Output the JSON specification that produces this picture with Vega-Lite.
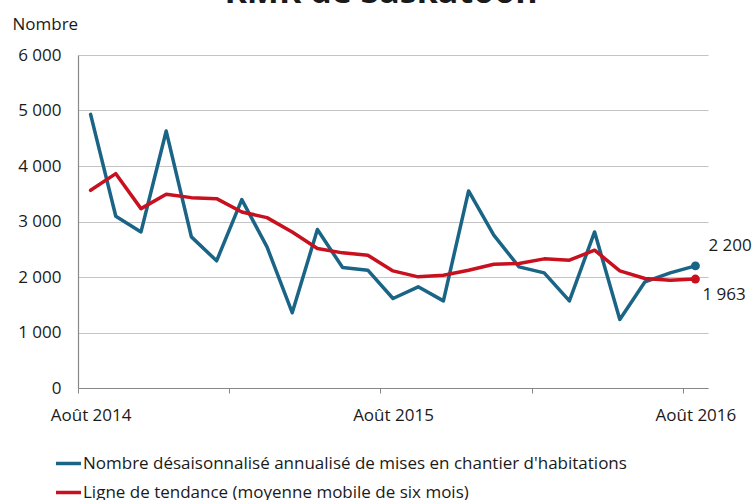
{
  "$schema": "https://vega.github.io/schema/vega-lite/v6.json",
  "width": 630,
  "height": 333,
  "autosize": {"type": "none"},
  "padding": {"left": 78, "top": 55, "right": 48, "bottom": 112},
  "title": {"text": "RMR de Saskatoon", "fontSize": 34, "fontWeight": "bold", "font": "Open Sans", "color": "#1a1a1a", "frame": "group", "anchor": "middle", "offset": 8, "baseline": "alphabetic", "dx": -12, "dy": 30},
  "config": {
    "font": "Open Sans",
    "view": {"stroke": null},
    "locale": {"number": {"decimal": ",", "thousands": " ", "grouping": [3], "currency": ["", " $"]}}
  },
  "data": {"values": [
    {"i": 0, "mois": "2014-08", "serie": "Nombre désaisonnalisé annualisé de mises en chantier d'habitations", "valeur": 4930},
    {"i": 1, "mois": "2014-09", "serie": "Nombre désaisonnalisé annualisé de mises en chantier d'habitations", "valeur": 3095},
    {"i": 2, "mois": "2014-10", "serie": "Nombre désaisonnalisé annualisé de mises en chantier d'habitations", "valeur": 2812},
    {"i": 3, "mois": "2014-11", "serie": "Nombre désaisonnalisé annualisé de mises en chantier d'habitations", "valeur": 4630},
    {"i": 4, "mois": "2014-12", "serie": "Nombre désaisonnalisé annualisé de mises en chantier d'habitations", "valeur": 2723},
    {"i": 5, "mois": "2015-01", "serie": "Nombre désaisonnalisé annualisé de mises en chantier d'habitations", "valeur": 2291},
    {"i": 6, "mois": "2015-02", "serie": "Nombre désaisonnalisé annualisé de mises en chantier d'habitations", "valeur": 3395},
    {"i": 7, "mois": "2015-03", "serie": "Nombre désaisonnalisé annualisé de mises en chantier d'habitations", "valeur": 2543},
    {"i": 8, "mois": "2015-04", "serie": "Nombre désaisonnalisé annualisé de mises en chantier d'habitations", "valeur": 1356},
    {"i": 9, "mois": "2015-05", "serie": "Nombre désaisonnalisé annualisé de mises en chantier d'habitations", "valeur": 2855},
    {"i": 10, "mois": "2015-06", "serie": "Nombre désaisonnalisé annualisé de mises en chantier d'habitations", "valeur": 2170},
    {"i": 11, "mois": "2015-07", "serie": "Nombre désaisonnalisé annualisé de mises en chantier d'habitations", "valeur": 2123},
    {"i": 12, "mois": "2015-08", "serie": "Nombre désaisonnalisé annualisé de mises en chantier d'habitations", "valeur": 1613},
    {"i": 13, "mois": "2015-09", "serie": "Nombre désaisonnalisé annualisé de mises en chantier d'habitations", "valeur": 1823},
    {"i": 14, "mois": "2015-10", "serie": "Nombre désaisonnalisé annualisé de mises en chantier d'habitations", "valeur": 1570},
    {"i": 15, "mois": "2015-11", "serie": "Nombre désaisonnalisé annualisé de mises en chantier d'habitations", "valeur": 3550},
    {"i": 16, "mois": "2015-12", "serie": "Nombre désaisonnalisé annualisé de mises en chantier d'habitations", "valeur": 2753},
    {"i": 17, "mois": "2016-01", "serie": "Nombre désaisonnalisé annualisé de mises en chantier d'habitations", "valeur": 2183},
    {"i": 18, "mois": "2016-02", "serie": "Nombre désaisonnalisé annualisé de mises en chantier d'habitations", "valeur": 2075},
    {"i": 19, "mois": "2016-03", "serie": "Nombre désaisonnalisé annualisé de mises en chantier d'habitations", "valeur": 1570},
    {"i": 20, "mois": "2016-04", "serie": "Nombre désaisonnalisé annualisé de mises en chantier d'habitations", "valeur": 2812},
    {"i": 21, "mois": "2016-05", "serie": "Nombre désaisonnalisé annualisé de mises en chantier d'habitations", "valeur": 1236},
    {"i": 22, "mois": "2016-06", "serie": "Nombre désaisonnalisé annualisé de mises en chantier d'habitations", "valeur": 1913},
    {"i": 23, "mois": "2016-07", "serie": "Nombre désaisonnalisé annualisé de mises en chantier d'habitations", "valeur": 2075},
    {"i": 24, "mois": "2016-08", "serie": "Nombre désaisonnalisé annualisé de mises en chantier d'habitations", "valeur": 2200},
    {"i": 0, "mois": "2014-08", "serie": "Ligne de tendance (moyenne mobile de six mois)", "valeur": 3562},
    {"i": 1, "mois": "2014-09", "serie": "Ligne de tendance (moyenne mobile de six mois)", "valeur": 3862},
    {"i": 2, "mois": "2014-10", "serie": "Ligne de tendance (moyenne mobile de six mois)", "valeur": 3232},
    {"i": 3, "mois": "2014-11", "serie": "Ligne de tendance (moyenne mobile de six mois)", "valeur": 3490},
    {"i": 4, "mois": "2014-12", "serie": "Ligne de tendance (moyenne mobile de six mois)", "valeur": 3430},
    {"i": 5, "mois": "2015-01", "serie": "Ligne de tendance (moyenne mobile de six mois)", "valeur": 3412},
    {"i": 6, "mois": "2015-02", "serie": "Ligne de tendance (moyenne mobile de six mois)", "valeur": 3172},
    {"i": 7, "mois": "2015-03", "serie": "Ligne de tendance (moyenne mobile de six mois)", "valeur": 3070},
    {"i": 8, "mois": "2015-04", "serie": "Ligne de tendance (moyenne mobile de six mois)", "valeur": 2812},
    {"i": 9, "mois": "2015-05", "serie": "Ligne de tendance (moyenne mobile de six mois)", "valeur": 2513},
    {"i": 10, "mois": "2015-06", "serie": "Ligne de tendance (moyenne mobile de six mois)", "valeur": 2435},
    {"i": 11, "mois": "2015-07", "serie": "Ligne de tendance (moyenne mobile de six mois)", "valeur": 2393},
    {"i": 12, "mois": "2015-08", "serie": "Ligne de tendance (moyenne mobile de six mois)", "valeur": 2110},
    {"i": 13, "mois": "2015-09", "serie": "Ligne de tendance (moyenne mobile de six mois)", "valeur": 2003},
    {"i": 14, "mois": "2015-10", "serie": "Ligne de tendance (moyenne mobile de six mois)", "valeur": 2033},
    {"i": 15, "mois": "2015-11", "serie": "Ligne de tendance (moyenne mobile de six mois)", "valeur": 2123},
    {"i": 16, "mois": "2015-12", "serie": "Ligne de tendance (moyenne mobile de six mois)", "valeur": 2231},
    {"i": 17, "mois": "2016-01", "serie": "Ligne de tendance (moyenne mobile de six mois)", "valeur": 2243},
    {"i": 18, "mois": "2016-02", "serie": "Ligne de tendance (moyenne mobile de six mois)", "valeur": 2327},
    {"i": 19, "mois": "2016-03", "serie": "Ligne de tendance (moyenne mobile de six mois)", "valeur": 2303},
    {"i": 20, "mois": "2016-04", "serie": "Ligne de tendance (moyenne mobile de six mois)", "valeur": 2483},
    {"i": 21, "mois": "2016-05", "serie": "Ligne de tendance (moyenne mobile de six mois)", "valeur": 2111},
    {"i": 22, "mois": "2016-06", "serie": "Ligne de tendance (moyenne mobile de six mois)", "valeur": 1973},
    {"i": 23, "mois": "2016-07", "serie": "Ligne de tendance (moyenne mobile de six mois)", "valeur": 1943},
    {"i": 24, "mois": "2016-08", "serie": "Ligne de tendance (moyenne mobile de six mois)", "valeur": 1963}
  ]},
  "encoding": {
    "x": {
      "field": "i", "type": "quantitative",
      "scale": {"domain": [-0.5, 24.5], "nice": false, "zero": false},
      "axis": {
        "title": null,
        "grid": false,
        "values": [-0.5, 0, 5.5, 11.5, 12, 17.5, 23.5, 24],
        "labelExpr": "datum.value == 0 ? 'Août 2014' : datum.value == 12 ? 'Août 2015' : datum.value == 24 ? 'Août 2016' : ''",
        "labelOverlap": false,
        "labelFlush": false,
        "labelFontSize": 17,
        "labelColor": "#1a1a1a",
        "labelPadding": 14,
        "tickSize": 5,
        "tickColor": "#888888",
        "tickOpacity": {"condition": {"test": "datum.value % 1 == 0", "value": 0}, "value": 1},
        "domainColor": "#888888",
        "domainWidth": 1.2
      }
    },
    "y": {
      "field": "valeur", "type": "quantitative",
      "scale": {"domain": [0, 6000], "nice": false},
      "axis": {
        "title": "Nombre",
        "titleAngle": 0,
        "titleAlign": "left",
        "titleBaseline": "alphabetic",
        "titleX": -66,
        "titleY": -26,
        "titleFontSize": 17,
        "titleFontWeight": "normal",
        "titleColor": "#1a1a1a",
        "values": [0, 1000, 2000, 3000, 4000, 5000, 6000],
        "format": ",d",
        "ticks": false,
        "labelPadding": 17,
        "labelFontSize": 17,
        "labelColor": "#1a1a1a",
        "gridColor": "#c4c4c4",
        "gridWidth": 1.2,
        "domainColor": "#888888",
        "domainWidth": 1.2
      }
    },
    "color": {
      "field": "serie", "type": "nominal",
      "scale": {
        "domain": ["Nombre désaisonnalisé annualisé de mises en chantier d'habitations", "Ligne de tendance (moyenne mobile de six mois)"],
        "range": ["#1a6485", "#c8101e"]
      },
      "legend": {
        "title": null,
        "orient": "none",
        "legendX": -24,
        "legendY": 394,
        "direction": "vertical",
        "symbolType": "stroke",
        "symbolSize": 625,
        "symbolStrokeWidth": 3.5,
        "labelFontSize": 17,
        "labelColor": "#1a1a1a",
        "labelOffset": 0,
        "rowPadding": 6,
        "labelLimit": 700,
        "padding": 0
      }
    }
  },
  "layer": [
    {
      "mark": {"type": "line", "strokeWidth": 3.5, "strokeJoin": "round", "strokeCap": "round"}
    },
    {
      "transform": [{"filter": "datum.i == 24"}],
      "mark": {"type": "point", "filled": true, "size": 80, "opacity": 1}
    },
    {
      "transform": [{"filter": "datum.i == 24 && datum.valeur > 2100"}],
      "mark": {"type": "text", "align": "left", "baseline": "middle", "dx": 13, "dy": -20, "fontSize": 17, "color": "#1a1a1a"},
      "encoding": {"text": {"field": "valeur", "type": "quantitative", "format": ",d"}, "color": {"value": "#1a1a1a"}}
    },
    {
      "transform": [{"filter": "datum.i == 24 && datum.valeur < 2100"}],
      "mark": {"type": "text", "align": "left", "baseline": "middle", "dx": 7, "dy": 16, "fontSize": 17, "color": "#1a1a1a"},
      "encoding": {"text": {"field": "valeur", "type": "quantitative", "format": ",d"}, "color": {"value": "#1a1a1a"}}
    }
  ]
}
